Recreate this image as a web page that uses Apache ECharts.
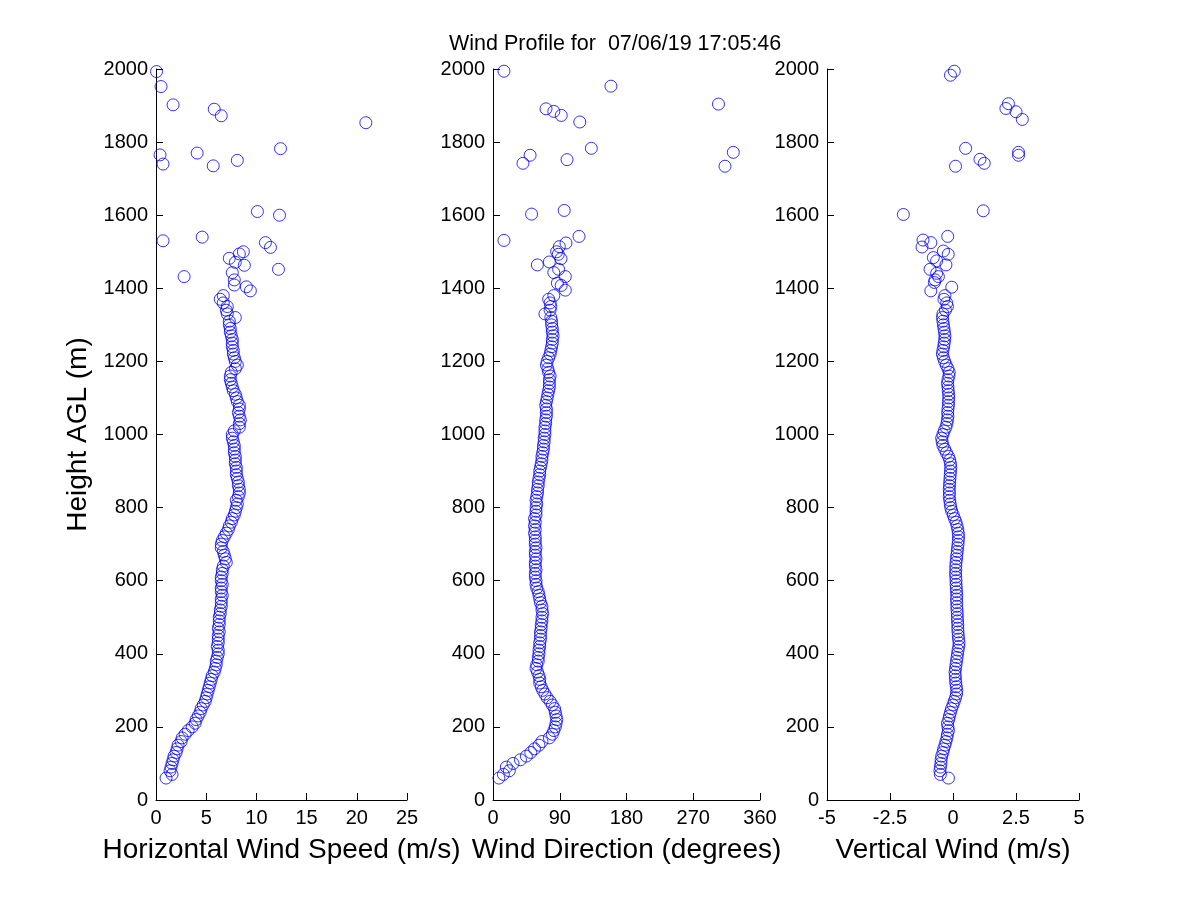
<!DOCTYPE html>
<html>
<head>
<meta charset="utf-8">
<script src="https://cdn.jsdelivr.net/npm/echarts@6/dist/echarts.min.js"></script>
<style>
html,body{margin:0;padding:0;background:#fff;}
#chart{width:1200px;height:900px;}
</style>
</head>
<body>
<div id="chart"></div>
<script>
// Shared heights (m) of the dense part of the profile
var heights = [
  60,70,80,90,100,110,120,130,140,150,
  160,170,180,190,200,210,220,230,240,250,
  260,270,280,290,300,310,320,330,340,350,
  360,370,380,390,400,410,420,430,440,450,
  460,470,480,490,500,510,520,530,540,550,
  560,570,580,590,600,610,620,630,640,650,
  660,670,680,690,700,710,720,730,740,750,
  760,770,780,790,800,810,820,830,840,850,
  860,870,880,890,900,910,920,930,940,950,
  960,970,980,990,1000,1010,1020,1030,1040,1050,
  1060,1070,1080,1090,1100,1110,1120,1130,1140,1150,
  1160,1170,1180,1190,1200,1210,1220,1230,1240,1250,
  1260,1270,1280,1290,1300,1310,1320,1330,1340,1350,
  1360,1370,1380
];
// Horizontal wind speed (m/s) at those heights
var speed = [
  1.0,1.6,1.4,1.5,1.6,1.7,1.8,2.0,2.1,2.2,
  2.5,2.6,2.9,3.2,3.6,3.9,4.0,4.2,4.4,4.5,
  4.7,4.9,5.0,5.1,5.2,5.3,5.4,5.5,5.6,5.8,
  5.9,6.0,6.0,6.1,6.2,6.2,6.1,6.2,6.2,6.2,
  6.3,6.2,6.3,6.3,6.3,6.4,6.4,6.5,6.5,6.5,
  6.6,6.5,6.5,6.6,6.5,6.5,6.6,6.6,6.7,7.0,
  6.9,6.8,6.7,6.5,6.5,6.6,6.8,7.0,7.2,7.3,
  7.5,7.6,7.8,7.9,8.0,8.1,8.0,8.2,8.3,8.3,
  8.2,8.2,8.1,8.0,8.0,8.0,7.9,7.9,7.9,7.8,
  7.8,7.8,7.7,7.6,7.6,7.8,8.3,8.3,8.4,8.3,
  8.2,8.3,8.3,8.1,8.0,7.9,7.7,7.6,7.5,7.4,
  7.4,7.5,7.9,8.1,7.9,7.8,7.7,7.7,7.6,7.6,
  7.6,7.5,7.4,7.4,7.3,7.3,7.9,7.1,7.0,7.1,
  6.7,6.4,6.7
];
// Wind direction (degrees) at those heights
var direction = [
  8,14,22,18,27,37,45,51,56,62,
  66,76,80,82,84,85,86,85,84,83,
  80,77,73,70,67,65,63,63,62,60,
  58,59,61,61,62,62,63,63,64,64,
  64,65,65,66,66,67,66,66,64,63,
  62,61,59,58,58,57,57,58,57,57,
  58,57,57,58,57,57,57,56,57,56,
  57,56,58,58,58,59,58,59,60,60,
  61,61,62,63,63,64,65,66,66,67,
  68,68,69,69,70,70,70,71,71,72,
  72,72,71,72,73,74,75,76,76,76,
  77,75,74,72,73,75,77,78,79,80,
  80,81,80,80,79,79,78,70,77,78,
  77,75,82
];
// Vertical wind (m/s) at those heights
var vertical = [
  -0.18,-0.50,-0.52,-0.50,-0.48,-0.47,-0.45,-0.40,-0.37,-0.32,
  -0.28,-0.24,-0.22,-0.18,-0.20,-0.22,-0.17,-0.14,-0.10,-0.06,
  0.00,0.05,0.10,0.14,0.15,0.13,0.11,0.10,0.09,0.08,
  0.10,0.12,0.14,0.16,0.18,0.20,0.23,0.24,0.22,0.21,
  0.20,0.19,0.19,0.18,0.17,0.17,0.16,0.15,0.15,0.14,
  0.15,0.14,0.13,0.12,0.12,0.11,0.10,0.11,0.11,0.12,
  0.14,0.15,0.17,0.18,0.20,0.21,0.22,0.21,0.19,0.16,
  0.12,0.06,0.01,-0.05,-0.09,-0.11,-0.13,-0.15,-0.14,-0.15,
  -0.14,-0.13,-0.12,-0.11,-0.10,-0.09,-0.10,-0.13,-0.18,-0.26,
  -0.33,-0.40,-0.43,-0.45,-0.40,-0.35,-0.28,-0.24,-0.22,-0.20,
  -0.21,-0.20,-0.18,-0.18,-0.17,-0.17,-0.19,-0.20,-0.22,-0.20,
  -0.16,-0.15,-0.20,-0.27,-0.33,-0.38,-0.42,-0.40,-0.37,-0.35,
  -0.33,-0.32,-0.34,-0.36,-0.38,-0.40,-0.42,-0.40,-0.30,-0.22,
  -0.25,-0.36,-0.32
];
// Scattered upper-level points, per panel
var speedUpperH = [1393,1404,1409,1423,1443,1432,1452,1463,1471,1482,1494,1500,1512,1525,1530,1540,1600,1610,1735,1740,1750,1765,1770,1782,1853,1872,1890,1902,1952,1993];
var speedUpper  = [9.4,9.0,7.8,7.8,7.6,2.8,12.2,8.8,7.9,7.3,8.3,8.7,11.4,10.9,0.7,4.6,12.3,10.1,5.7,0.7,8.1,0.4,4.1,12.4,20.9,6.5,5.8,1.7,0.5,0.05];

var dirUpperH = [1395,1408,1414,1432,1443,1452,1464,1472,1481,1493,1500,1514,1524,1531,1542,1603,1613,1734,1742,1752,1764,1772,1783,1855,1873,1884,1891,1904,1953,1994];
var dirUpper  = [97.5,92,86.8,97.5,82,88.5,59.8,76,91.7,88,85.8,89.4,98.4,14.8,116,52,96,312.8,40.4,99.8,50,324,132.6,117,92,82,71.5,304,159,14.8];

var vertUpperH = [1393,1403,1416,1423,1432,1441,1452,1464,1475,1484,1493,1502,1513,1525,1532,1542,1602,1612,1734,1742,1753,1764,1772,1783,1862,1883,1892,1905,1983,1994];
var vertUpper  = [-0.88,-0.05,-0.74,-0.71,-0.58,-0.65,-0.91,-0.28,-0.65,-0.78,-0.19,-0.38,-1.23,-0.88,-1.19,-0.21,-1.97,1.2,0.1,1.24,1.07,2.6,2.6,0.5,2.75,2.5,2.1,2.2,-0.1,0.05];

// Axis tick values
var speedTicks = [0,5,10,15,20,25];
var dirTicks = [0,90,180,270,360];
var vertTicks = [-5,-2.5,0,2.5,5];
var heightTicks = [0,200,400,600,800,1000,1200,1400,1600,1800,2000];

var titleText = 'Wind Profile for  07/06/19 17:05:46';
var xNames = ['Horizontal Wind Speed (m/s)', 'Wind Direction (degrees)', 'Vertical Wind (m/s)'];
var yName = 'Height AGL (m)';

function pairs(vals, hs, upV, upH) {
  var out = [];
  for (var i = 0; i < hs.length; i++) out.push([vals[i], hs[i]]);
  for (var j = 0; j < upH.length; j++) out.push([upV[j], upH[j]]);
  return out;
}

var FONT = '"Liberation Sans", Arial, Helvetica, sans-serif';
var axisLine = {show: true, onZero: false, lineStyle: {color: '#000', width: 1}};
var axisTick = {show: true, inside: true, length: 7, lineStyle: {color: '#000', width: 1}};
function axisLabel(margin) {
  return {color: '#000', fontSize: 20, fontFamily: FONT, margin: margin,
          formatter: function (v) { return String(v); }};
}

function xAxis(idx, ticks, name) {
  return {
    type: 'value', gridIndex: idx,
    min: ticks[0], max: ticks[ticks.length - 1], interval: ticks[1] - ticks[0],
    axisLine: axisLine, axisTick: axisTick,
    axisLabel: axisLabel(8),
    splitLine: {show: false},
    name: name, nameLocation: 'middle', nameGap: 36,
    nameTextStyle: {color: '#000', fontSize: 28, fontFamily: FONT}
  };
}
function yAxis(idx, withName) {
  var a = {
    type: 'value', gridIndex: idx,
    min: heightTicks[0], max: heightTicks[heightTicks.length - 1], interval: 200,
    axisLine: axisLine, axisTick: axisTick,
    axisLabel: axisLabel(8),
    splitLine: {show: false}
  };
  if (withName) {
    a.name = yName; a.nameLocation = 'middle'; a.nameGap = 64;
    a.nameTextStyle = {color: '#000', fontSize: 28, fontFamily: FONT};
  }
  return a;
}
function scatter(idx, data) {
  return {
    type: 'scatter', xAxisIndex: idx, yAxisIndex: idx,
    symbol: 'circle', symbolSize: 12,
    itemStyle: {color: 'rgba(0,0,0,0)', borderColor: '#0000ff', borderWidth: 1},
    emphasis: {disabled: true},
    data: data
  };
}

var chart = echarts.init(document.getElementById('chart'), null, {renderer: 'canvas'});
chart.setOption({
  animation: false,
  backgroundColor: '#fff',
  title: {
    text: titleText, left: 444, top: 28,
    textStyle: {color: '#000', fontSize: 21.5, fontWeight: 'normal', fontFamily: FONT}
  },
  grid: [
    {left: 156, width: 251, top: 69, height: 731},
    {left: 493, width: 267, top: 69, height: 731},
    {left: 827, width: 252, top: 69, height: 731}
  ],
  xAxis: [
    xAxis(0, speedTicks, xNames[0]),
    xAxis(1, dirTicks, xNames[1]),
    xAxis(2, vertTicks, xNames[2])
  ],
  yAxis: [yAxis(0, true), yAxis(1, false), yAxis(2, false)],
  series: [
    scatter(0, pairs(speed, heights, speedUpper, speedUpperH)),
    scatter(1, pairs(direction, heights, dirUpper, dirUpperH)),
    scatter(2, pairs(vertical, heights, vertUpper, vertUpperH))
  ]
});
</script>
</body>
</html>
